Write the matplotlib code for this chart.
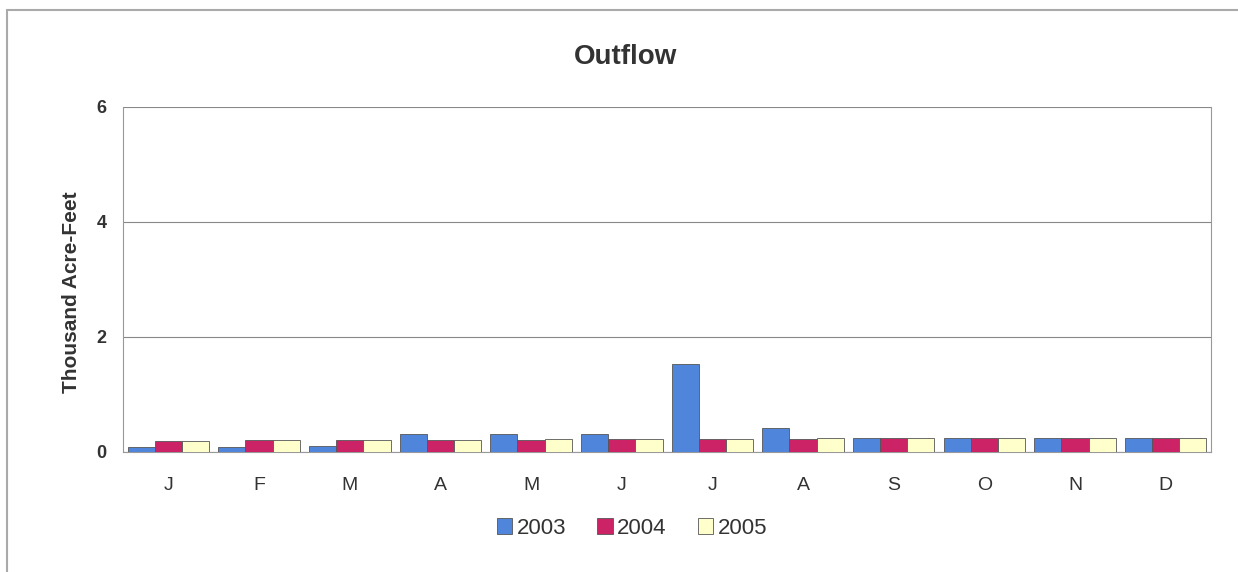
import numpy as np
import matplotlib.pyplot as plt

plt.rcParams["font.family"] = ["Liberation Sans", "DejaVu Sans"]

months = ["J", "F", "M", "A", "M", "J", "J", "A", "S", "O", "N", "D"]
years = ["2003", "2004", "2005"]
outflow_2003 = [0.09, 0.09, 0.10, 0.31, 0.32, 0.32, 1.53, 0.42, 0.24, 0.25, 0.25, 0.25]
outflow_2004 = [0.19, 0.20, 0.20, 0.20, 0.21, 0.22, 0.23, 0.23, 0.24, 0.24, 0.25, 0.25]
outflow_2005 = [0.19, 0.20, 0.21, 0.21, 0.22, 0.22, 0.23, 0.24, 0.24, 0.24, 0.25, 0.25]
colors = ["#4f86dc", "#cc2266", "#ffffcc"]

fig = plt.figure(figsize=(12.38, 5.72), dpi=100)
ax = fig.add_axes([0.0994, 0.2098, 0.8788, 0.6034])

x = np.arange(len(months))
w = 0.3
for i, (vals, c, lab) in enumerate(zip([outflow_2003, outflow_2004, outflow_2005], colors, years)):
    ax.bar(x + (i - 1) * w, vals, width=w, color=c, edgecolor="#555555", linewidth=0.6, label=lab, zorder=3)

ax.set_xlim(-0.5, len(months) - 0.5)
ax.set_ylim(0, 6)
ax.set_yticks([0, 2, 4, 6])
ax.set_xticks(x)
ax.set_xticklabels(months, fontsize=14, color="#333333")
for t in ax.get_yticklabels():
    t.set_fontweight("bold")
    t.set_fontsize(13)
    t.set_color("#333333")
ax.tick_params(axis="x", length=0, pad=18)
ax.tick_params(axis="y", length=0, pad=12)
ax.yaxis.grid(True, color="#888888", linewidth=0.8, zorder=0)
for s in ax.spines.values():
    s.set_color("#999999")
ax.spines["top"].set_visible(False)

ax.set_ylabel("Thousand Acre-Feet", fontsize=15, fontweight="bold", color="#333333")
ax.yaxis.set_label_coords(-0.039, 0.464)
fig.text(0.505, 0.9, "Outflow", ha="center", va="center", fontsize=20, fontweight="bold", color="#333333")

leg = fig.legend(loc="center", bbox_to_anchor=(632 / 1238, 1 - 528 / 572), ncol=3, frameon=False,
                 fontsize=16, handlelength=0.7, handleheight=0.7, handletextpad=0.2, columnspacing=1.4)
for t in leg.get_texts():
    t.set_color("#333333")

# chart frame: only the left and top edges are inside the picture
border = plt.Rectangle((7 / 1238, -0.05), 1.1, 1.05 - 10 / 572, transform=fig.transFigure, fill=False,
                       edgecolor="#aaaaaa", linewidth=1.5)
fig.patches.append(border)

fig.savefig("out.png", dpi=100)
